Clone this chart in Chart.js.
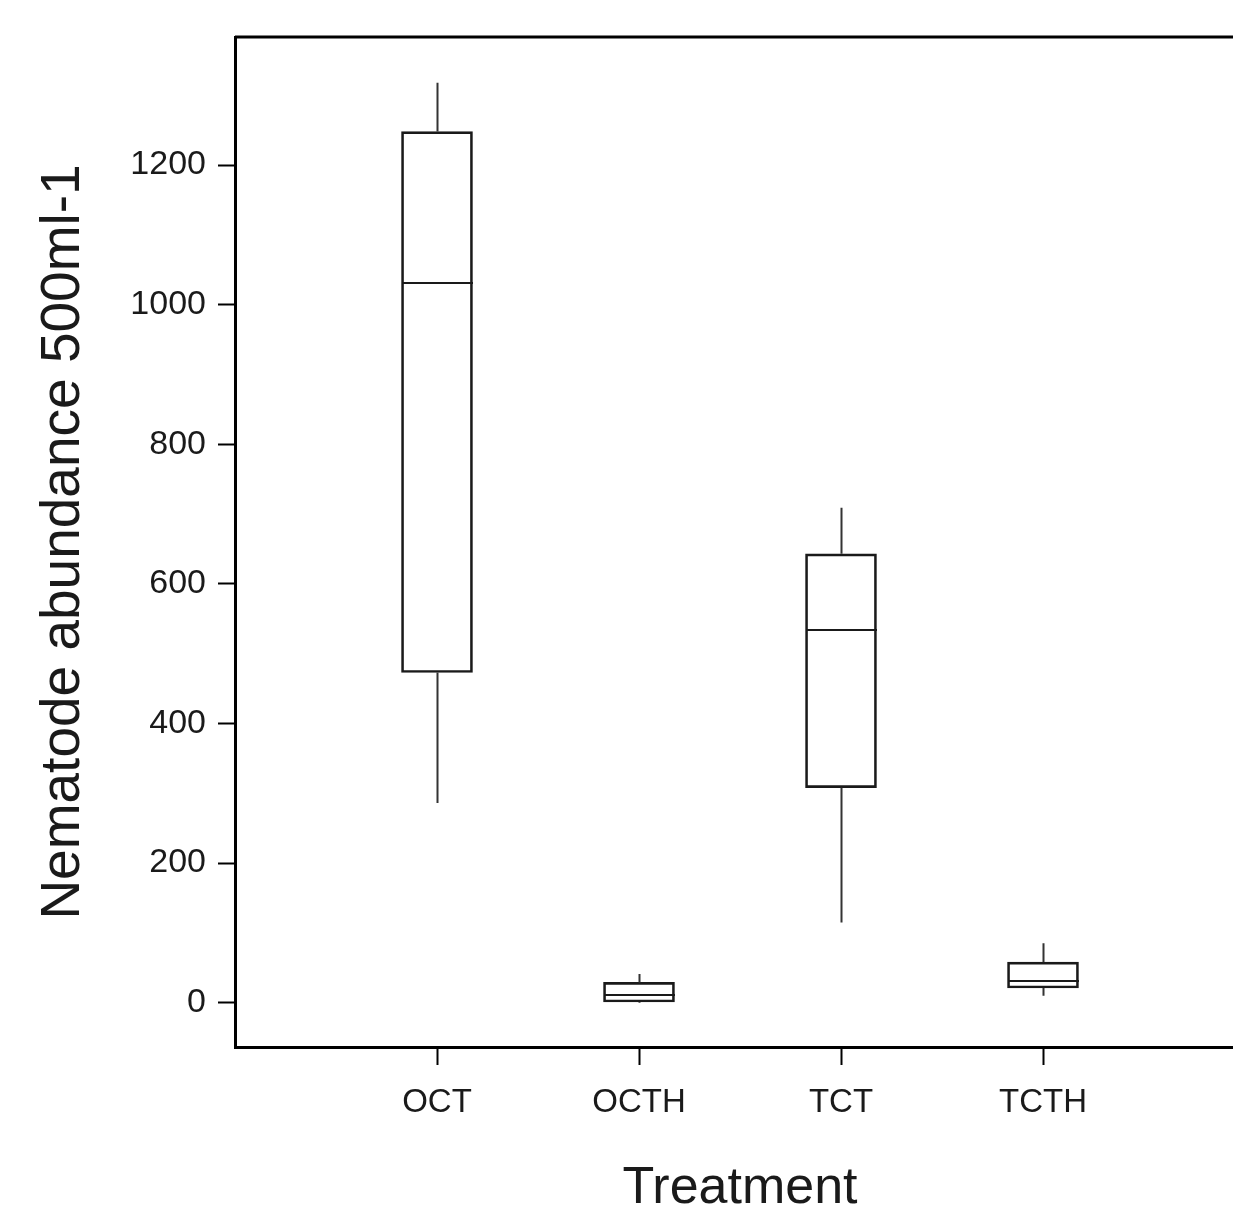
<!DOCTYPE html>
<html>
<head>
<meta charset="utf-8">
<script src="https://cdn.jsdelivr.net/npm/chart.js@4/dist/chart.umd.min.js"></script>
<style>
  html, body { margin: 0; padding: 0; background: #fff; }
  #wrap { width: 1233px; height: 1207px; overflow: hidden; position: relative; }
  canvas { display: block; }
</style>
</head>
<body>
<div id="wrap"><canvas id="c" width="1260" height="1207"></canvas></div>
<script>
// box plot values
var categories = ['OCT', 'OCTH', 'TCT', 'TCTH'];
var positions  = [1, 2, 3, 4];
var whiskerMax = [1318, 41, 709, 85];
var q3         = [1248, 29, 643, 58];
var median     = [1031, 11, 534, 31];
var q1         = [473, 1, 308, 21];
var whiskerMin = [286, 0, 115, 10];
var yTicks     = [0, 200, 400, 600, 800, 1000, 1200];

var ink = '#1a1a1a';
var fontFamily = '"Liberation Sans", Arial, sans-serif';

// median lines, whiskers and the top frame line
var boxExtras = {
  id: 'boxExtras',
  afterDatasetsDraw: function(chart) {
    var ctx = chart.ctx;
    var xs = chart.scales.x, ys = chart.scales.y;
    var meta = chart.getDatasetMeta(0);
    ctx.save();
    ctx.lineCap = 'butt';
    positions.forEach(function(p, i) {
      var x = Math.round(xs.getPixelForValue(p)) + 0.5;
      var half = meta.data[i].width / 2;
      ctx.strokeStyle = '#333';
      ctx.lineWidth = 2;
      ctx.beginPath();
      ctx.moveTo(x, ys.getPixelForValue(whiskerMax[i]));
      ctx.lineTo(x, ys.getPixelForValue(q3[i]));
      ctx.moveTo(x, ys.getPixelForValue(q1[i]));
      ctx.lineTo(x, ys.getPixelForValue(whiskerMin[i]));
      ctx.stroke();
      ctx.strokeStyle = ink;
      ctx.beginPath();
      var ym = ys.getPixelForValue(median[i]);
      ctx.moveTo(x - half, ym);
      ctx.lineTo(x + half, ym);
      ctx.stroke();
    });
    var a = chart.chartArea;
    ctx.strokeStyle = '#000';
    ctx.lineWidth = 3;
    ctx.beginPath();
    ctx.moveTo(a.left, a.top);
    ctx.lineTo(a.right + 20, a.top);
    ctx.stroke();
    ctx.restore();
  }
};

var chart = new Chart(document.getElementById('c'), {
  type: 'bar',
  data: {
    datasets: [{
      data: positions.map(function(p, i) { return { x: p, y: [q1[i], q3[i]] }; }),
      backgroundColor: 'rgba(255,255,255,0)',
      borderColor: ink,
      borderWidth: 2,
      borderSkipped: false,
      barThickness: 71
    }]
  },
  options: {
    responsive: false,
    animation: false,
    devicePixelRatio: 1,
    layout: { padding: { left: 0, top: 37, right: 15, bottom: 0 } },
    plugins: { legend: { display: false }, tooltip: { enabled: false } },
    scales: {
      x: {
        type: 'linear',
        min: 0,
        max: 5,
        offset: false,
        afterBuildTicks: function(s) {
          s.ticks = positions.map(function(p) { return { value: p }; });
        },
        afterFit: function(s) { s.height = 160; },
        ticks: {
          callback: function(v) { return categories[positions.indexOf(v)] || ''; },
          color: ink,
          font: { family: fontFamily, size: 33 },
          padding: 18,
          maxRotation: 0
        },
        grid: { offset: false, drawOnChartArea: false, tickLength: 18, tickWidth: 2, tickColor: '#000' },
        border: { display: true, color: '#000', width: 3 },
        title: {
          display: true,
          text: 'Treatment',
          color: ink,
          font: { family: fontFamily, size: 52, lineHeight: 1 },
          padding: { top: 0, bottom: -8 }
        }
      },
      y: {
        min: -63.5,
        max: 1383.5,
        afterBuildTicks: function(s) {
          s.ticks = yTicks.map(function(v) { return { value: v }; });
        },
        afterFit: function(s) { s.width = 235; },
        ticks: {
          callback: function(v) { return String(v); },
          color: ink,
          font: { family: fontFamily, size: 34 },
          padding: 12
        },
        grid: { drawOnChartArea: false, tickLength: 17, tickWidth: 2, tickColor: '#000' },
        border: { display: true, color: '#000', width: 3 },
        title: {
          display: true,
          text: 'Nematode abundance 500ml-1',
          color: ink,
          font: { family: fontFamily, size: 55 },
          padding: { top: 31, bottom: 0 }
        }
      }
    }
  },
  plugins: [boxExtras]
});
</script>
</body>
</html>
